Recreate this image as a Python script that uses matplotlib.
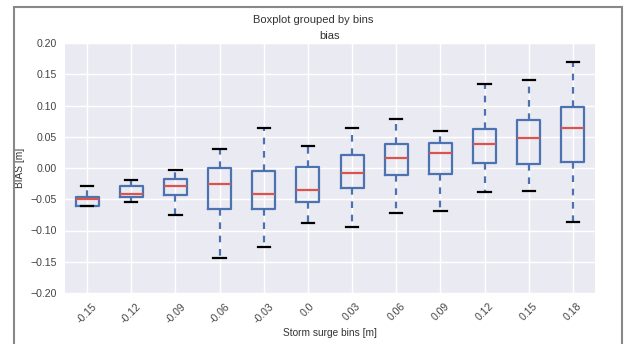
import matplotlib.pyplot as plt
from matplotlib.patches import Rectangle

plt.rcParams['font.family'] = ['Liberation Sans', 'DejaVu Sans']

bins = ['-0.15', '-0.12', '-0.09', '-0.06', '-0.03', '0.0',
        '0.03', '0.06', '0.09', '0.12', '0.15', '0.18']
whislo = [-0.061, -0.054, -0.075, -0.1445, -0.127, -0.0885,
          -0.094, -0.0725, -0.069, -0.039, -0.037, -0.0865]
q1 = [-0.060, -0.0465, -0.043, -0.065, -0.0655, -0.054,
      -0.0315, -0.011, -0.0095, 0.0085, 0.0065, 0.0095]
med = [-0.0495, -0.0415, -0.029, -0.0255, -0.041, -0.0357,
       -0.008, 0.016, 0.0235, 0.039, 0.0485, 0.0635]
q3 = [-0.046, -0.029, -0.0175, 0.0, -0.0055, 0.002,
      0.021, 0.0385, 0.0395, 0.0625, 0.0765, 0.098]
whishi = [-0.028, -0.0197, -0.0027, 0.0304, 0.0635, 0.0352,
          0.064, 0.0784, 0.0592, 0.1344, 0.1408, 0.169]

stats = []
for i in range(len(bins)):
    stats.append(dict(label=bins[i], whislo=whislo[i], q1=q1[i], med=med[i],
                      q3=q3[i], whishi=whishi[i], fliers=[]))

fig = plt.figure(figsize=(6.27, 3.44), dpi=100)
ax = fig.add_axes([65 / 627, 1 - 293 / 344, 530 / 627, 250 / 344])
ax.set_facecolor('#EAEAF2')
ax.set_axisbelow(True)
ax.grid(True, color='white', linewidth=1)
for s in ax.spines.values():
    s.set_visible(False)

blue = '#4C72B0'
ax.bxp(stats, widths=0.52, capwidths=0.28, showfliers=False,
       boxprops=dict(color=blue, linewidth=1.6),
       whiskerprops=dict(color=blue, linewidth=1.6, linestyle=(0, (3, 3))),
       capprops=dict(color='black', linewidth=1.6),
       medianprops=dict(color='#D9534F', linewidth=1.6))

ax.set_ylim(-0.20, 0.20)
ax.set_xlim(0.5, 12.5)
ax.set_yticks([-0.20, -0.15, -0.10, -0.05, 0.00, 0.05, 0.10, 0.15, 0.20])
ax.set_yticklabels(['%.2f' % v if v >= 0 else '\u2212%.2f' % -v
                    for v in ax.get_yticks()])
ax.tick_params(length=0, labelsize=7.6, colors='#444444', pad=6)
plt.setp(ax.get_xticklabels(), rotation=45, ha='center')

ax.set_xlabel('Storm surge bins [m]', fontsize=7.3, color='#333333', labelpad=2)
ax.set_ylabel('BIAS [m]', fontsize=7.3, color='#333333')
ax.yaxis.set_label_coords(-0.075, 0.5)
ax.set_title('bias', fontsize=8, color='#333333', pad=3)
fig.suptitle('Boxplot grouped by bins', fontsize=8, color='#333333', y=0.955)

# grey frame of the screenshot
fig.patches.append(Rectangle((14 / 627, -0.1), 608 / 627, 1.1 - 7 / 344,
                             transform=fig.transFigure, fill=False,
                             edgecolor='#888888', linewidth=1.5))

fig.savefig('out.png', dpi=100)
